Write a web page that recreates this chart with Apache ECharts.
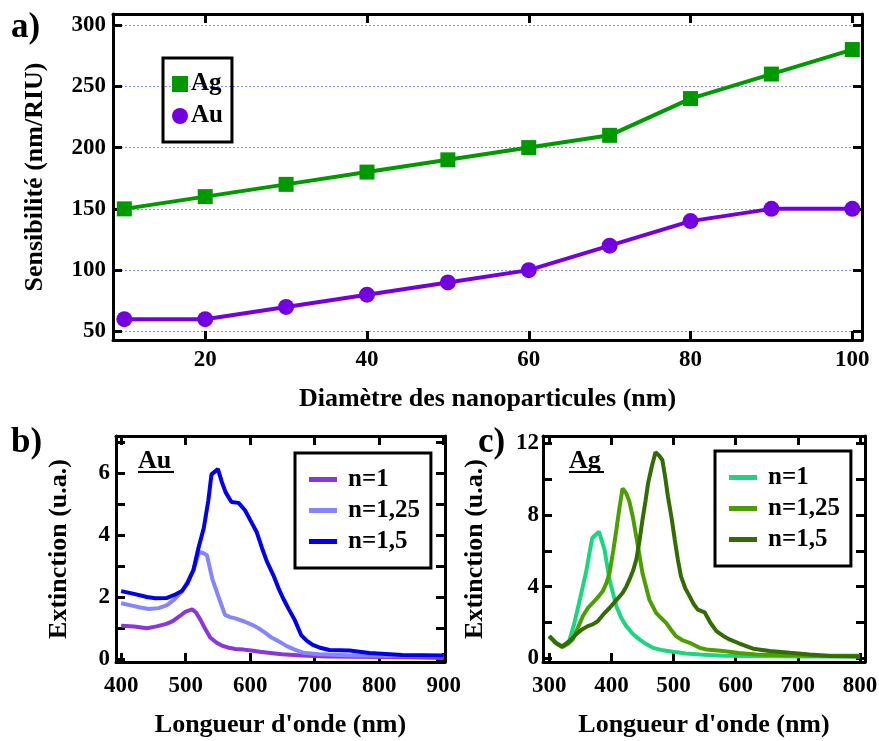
<!DOCTYPE html>
<html><head><meta charset="utf-8">
<script src="https://cdn.jsdelivr.net/npm/echarts@6/dist/echarts.min.js"></script>
<style>html,body{margin:0;padding:0;background:#fff}#c{width:879px;height:741px}</style>
</head><body><div id="c"></div>
<script>
// ---- data (a) ----
const sizes = [10, 20, 30, 40, 50, 60, 70, 80, 90, 100];
const agSens = [150, 160, 170, 180, 190, 200, 210, 240, 260, 280];
const auSens = [60, 60, 70, 80, 90, 100, 120, 140, 150, 150];
const aXTicks = [20, 40, 60, 80, 100];
const aYTicks = [50, 100, 150, 200, 250, 300];

// ---- data (b) Au spectra: [wavelength nm, extinction] ----
const auN1 = [[400,1.07],[420,1.05],[440,0.99],[455,1.05],[470,1.13],[480,1.22],[490,1.37],[500,1.53],[510,1.6],[516,1.5],[523,1.26],[530,0.98],[538,0.69],[548,0.52],[556,0.43],[565,0.37],[577,0.32],[590,0.3],[602,0.27],[615,0.23],[628,0.2],[649,0.15],[680,0.11],[720,0.08],[760,0.07],[800,0.06],[850,0.05],[880,0.04],[900,0.03]];
const auN125 = [[400,1.8],[417,1.72],[430,1.66],[443,1.61],[458,1.64],[471,1.74],[483,1.93],[494,2.17],[503,2.5],[512,2.87],[517,3.2],[521,3.46],[527,3.42],[533,3.35],[541,2.6],[551,2.0],[561,1.42],[569,1.35],[577,1.31],[592,1.2],[603,1.1],[613,0.99],[623,0.85],[633,0.69],[649,0.51],[656,0.42],[669,0.3],[682,0.2],[707,0.15],[750,0.12],[800,0.1],[850,0.1],[900,0.09]];
const auN15 = [[400,2.19],[420,2.1],[440,2.0],[453,1.96],[471,1.97],[484,2.08],[494,2.19],[503,2.45],[512,2.87],[520,3.6],[528,4.22],[535,5.1],[540,5.96],[550,6.13],[556,5.72],[562,5.38],[571,5.07],[582,5.04],[592,4.8],[601,4.45],[610,4.1],[618,3.6],[626,3.14],[636,2.7],[644,2.28],[651,1.96],[660,1.6],[669,1.26],[679,0.77],[688,0.58],[697,0.45],[710,0.35],[723,0.29],[754,0.27],[785,0.19],[836,0.13],[900,0.11]];
const bXTicks = [400, 500, 600, 700, 800, 900];
const bYLabels = [0, 2, 4, 6];
const bYTicks = [0, 1, 2, 3, 4, 5, 6, 7];

// ---- data (c) Ag spectra ----
const agN1 = [[300,1.24],[311,0.87],[321,0.68],[332,0.96],[340,1.9],[348,3.09],[359,4.76],[369,6.7],[380,7.07],[389,6.06],[397,4.39],[408,2.91],[416,2.25],[424,1.8],[435,1.35],[445,1.06],[456,0.8],[467,0.59],[483,0.45],[499,0.37],[520,0.28],[542,0.22],[580,0.15],[650,0.12],[720,0.1],[800,0.1]];
const agN125 = [[300,1.24],[311,0.85],[321,0.63],[330,0.8],[338,1.06],[346,1.7],[354,2.35],[362,2.8],[370,3.09],[378,3.4],[386,3.74],[392,4.2],[397,4.76],[403,6.0],[408,7.17],[413,8.4],[418,9.48],[424,9.2],[429,8.74],[435,7.8],[440,6.8],[450,4.76],[461,3.28],[472,2.54],[480,2.25],[488,1.98],[496,1.6],[504,1.24],[515,1.0],[526,0.87],[542,0.59],[553,0.5],[580,0.41],[605,0.3],[633,0.22],[680,0.17],[740,0.15],[800,0.15]];
const agN15 = [[300,1.24],[311,0.85],[321,0.65],[332,0.95],[343,1.33],[352,1.6],[362,1.8],[370,1.9],[378,2.07],[387,2.45],[397,2.81],[408,3.25],[418,3.65],[424,4.0],[429,4.39],[435,4.9],[440,5.5],[445,6.5],[450,7.72],[455,8.8],[459,9.76],[465,10.7],[471,11.5],[477,11.3],[482,11.06],[487,10.0],[491,9.02],[497,7.8],[502,6.61],[507,5.5],[512,4.57],[519,3.9],[526,3.46],[532,3.05],[539,2.72],[550,2.57],[559,2.0],[569,1.52],[580,1.25],[590,1.06],[606,0.83],[628,0.54],[655,0.41],[687,0.31],[719,0.22],[752,0.13],[800,0.1]];
const cXTicks = [300, 400, 500, 600, 700, 800];
const cYLabels = [0, 4, 8, 12];
const cYTicks = [0, 2, 4, 6, 8, 10, 12];

const FONT = '"Liberation Serif", "Times New Roman", serif';
const txt = (size) => ({ fontFamily: FONT, fontWeight: 'bold', fontSize: size, color: '#000' });

function axis(gridIndex, position, min, max, labels, ticks, opts) {
  opts = opts || {};
  const isMain = opts.main;
  return Object.assign({
    type: 'value', gridIndex, position, min, max,
    axisLine: { show: true, onZero: false, lineStyle: { color: '#000', width: 3 } },
    axisTick: { show: true, inside: true, length: 9, lineStyle: { color: '#000', width: 3 }, customValues: ticks },
    axisLabel: isMain ? Object.assign({ show: true, customValues: labels, margin: opts.margin || 8 }, txt(23)) : { show: false },
    splitLine: { show: false },
    nameTextStyle: txt(26)
  }, opts.extra || {});
}

const chart = echarts.init(document.getElementById('c'));
chart.setOption({
  animation: false,
  backgroundColor: '#fff',
  grid: [
    { left: 113, top: 14, width: 749, height: 326, outerBoundsMode: 'none' },
    { left: 116, top: 436, width: 329, height: 226, outerBoundsMode: 'none' },
    { left: 543, top: 436, width: 322, height: 226, outerBoundsMode: 'none' }
  ],
  xAxis: [
    axis(0, 'bottom', 8.6, 101.2, aXTicks, aXTicks, { main: true, margin: 9, extra: { name: 'Diamètre des nanoparticules (nm)', nameLocation: 'middle', nameGap: 46 } }),
    axis(0, 'top', 8.6, 101.2, aXTicks, aXTicks),
    axis(1, 'bottom', 392, 902, bXTicks, bXTicks, { main: true, margin: 13, extra: { name: "Longueur d'onde (nm)", nameLocation: 'middle', nameGap: 50 } }),
    axis(1, 'top', 392, 902, bXTicks, bXTicks),
    axis(2, 'bottom', 290, 808, cXTicks, cXTicks, { main: true, margin: 13, extra: { name: "Longueur d'onde (nm)", nameLocation: 'middle', nameGap: 50 } }),
    axis(2, 'top', 290, 808, cXTicks, cXTicks)
  ],
  yAxis: [
    axis(0, 'left', 43, 309, aYTicks, aYTicks, { main: true, margin: 7, extra: {
      name: 'Sensibilité (nm/RIU)', nameLocation: 'middle', nameGap: 65,
      splitLine: { show: true, customValues: aYTicks, lineStyle: { type: [2, 2], color: '#8a8aff', width: 1 } } } }),
    axis(0, 'right', 43, 309, aYTicks, aYTicks),
    axis(1, 'left', -0.1, 7.2, bYLabels, bYTicks, { main: true, margin: 6, extra: { name: 'Extinction (u.a.)', nameLocation: 'middle', nameGap: 44 } }),
    axis(1, 'right', -0.1, 7.2, bYLabels, bYTicks),
    axis(2, 'left', -0.2, 12.4, cYLabels, cYTicks, { main: true, margin: 4, extra: { name: 'Extinction (u.a.)', nameLocation: 'middle', nameGap: 55 } }),
    axis(2, 'right', -0.2, 12.4, cYLabels, cYTicks)
  ],
  legend: [
    { left: 163, top: 58, orient: 'vertical', borderColor: '#000', borderWidth: 3, padding: [13, 9, 13, 9],
      itemGap: 6, itemWidth: 16, itemHeight: 16,
      data: [{ name: 'Ag', icon: 'rect' }, { name: 'Au', icon: 'circle' }],
      textStyle: Object.assign({ lineHeight: 26, padding: [0, 0, 0, -2] }, txt(25)) },
    { left: 295, top: 453, orient: 'vertical', borderColor: '#000', borderWidth: 3, padding: [14, 11, 14, 14],
      itemGap: 6, itemWidth: 28, itemHeight: 5,
      data: [{ name: 'Au n=1', icon: 'rect' }, { name: 'Au n=1,25', icon: 'rect' }, { name: 'Au n=1,5', icon: 'rect' }],
      formatter: n => n.split(' ')[1],
      textStyle: Object.assign({ lineHeight: 24, padding: [0, 0, 0, 6] }, txt(25)) },
    { left: 715, top: 451, orient: 'vertical', borderColor: '#000', borderWidth: 3, padding: [14, 11, 14, 14],
      itemGap: 6, itemWidth: 28, itemHeight: 5,
      data: [{ name: 'Ag n=1', icon: 'rect' }, { name: 'Ag n=1,25', icon: 'rect' }, { name: 'Ag n=1,5', icon: 'rect' }],
      formatter: n => n.split(' ')[1],
      textStyle: Object.assign({ lineHeight: 24, padding: [0, 0, 0, 6] }, txt(25)) }
  ],
  graphic: [
    { type: 'text', left: 11, top: 10, style: { text: 'a)', font: 'bold 35px ' + FONT, fill: '#000' } },
    { type: 'text', left: 11, top: 425, style: { text: 'b)', font: 'bold 35px ' + FONT, fill: '#000' } },
    { type: 'text', left: 478, top: 425, style: { text: 'c)', font: 'bold 35px ' + FONT, fill: '#000' } },
    { type: 'text', left: 138, top: 448, style: { text: 'Au', font: 'bold 26px ' + FONT, fill: '#000' } },
    { type: 'line', shape: { x1: 138, y1: 472, x2: 174, y2: 472 }, style: { stroke: '#000', lineWidth: 2 } },
    { type: 'text', left: 569, top: 448, style: { text: 'Ag', font: 'bold 26px ' + FONT, fill: '#000' } },
    { type: 'line', shape: { x1: 569, y1: 472, x2: 604, y2: 472 }, style: { stroke: '#000', lineWidth: 2 } }
  ],
  series: [
    { name: 'Ag', type: 'line', xAxisIndex: 0, yAxisIndex: 0, data: sizes.map((s, i) => [s, agSens[i]]),
      symbol: 'rect', symbolSize: 15, itemStyle: { color: '#009a00' }, lineStyle: { color: '#009a00', width: 4 } },
    { name: 'Au', type: 'line', xAxisIndex: 0, yAxisIndex: 0, data: sizes.map((s, i) => [s, auSens[i]]),
      symbol: 'circle', symbolSize: 16, itemStyle: { color: '#7400e2' }, lineStyle: { color: '#7400e2', width: 4 } },
    { name: 'Au n=1', type: 'line', xAxisIndex: 2, yAxisIndex: 2, data: auN1, showSymbol: false, symbol: 'none',
      itemStyle: { color: '#8b35dc' }, lineStyle: { color: '#8b35dc', width: 4 } },
    { name: 'Au n=1,25', type: 'line', xAxisIndex: 2, yAxisIndex: 2, data: auN125, showSymbol: false, symbol: 'none',
      itemStyle: { color: '#8585ff' }, lineStyle: { color: '#8585ff', width: 4 } },
    { name: 'Au n=1,5', type: 'line', xAxisIndex: 2, yAxisIndex: 2, data: auN15, showSymbol: false, symbol: 'none',
      itemStyle: { color: '#0000ee' }, lineStyle: { color: '#0000ee', width: 4 } },
    { name: 'Ag n=1', type: 'line', xAxisIndex: 4, yAxisIndex: 4, data: agN1, showSymbol: false, symbol: 'none',
      itemStyle: { color: '#1ad67f' }, lineStyle: { color: '#1ad67f', width: 4 } },
    { name: 'Ag n=1,25', type: 'line', xAxisIndex: 4, yAxisIndex: 4, data: agN125, showSymbol: false, symbol: 'none',
      itemStyle: { color: '#4d9e00' }, lineStyle: { color: '#4d9e00', width: 4 } },
    { name: 'Ag n=1,5', type: 'line', xAxisIndex: 4, yAxisIndex: 4, data: agN15, showSymbol: false, symbol: 'none',
      itemStyle: { color: '#336b05' }, lineStyle: { color: '#336b05', width: 4 } }
  ]
});
</script>
</body></html>
